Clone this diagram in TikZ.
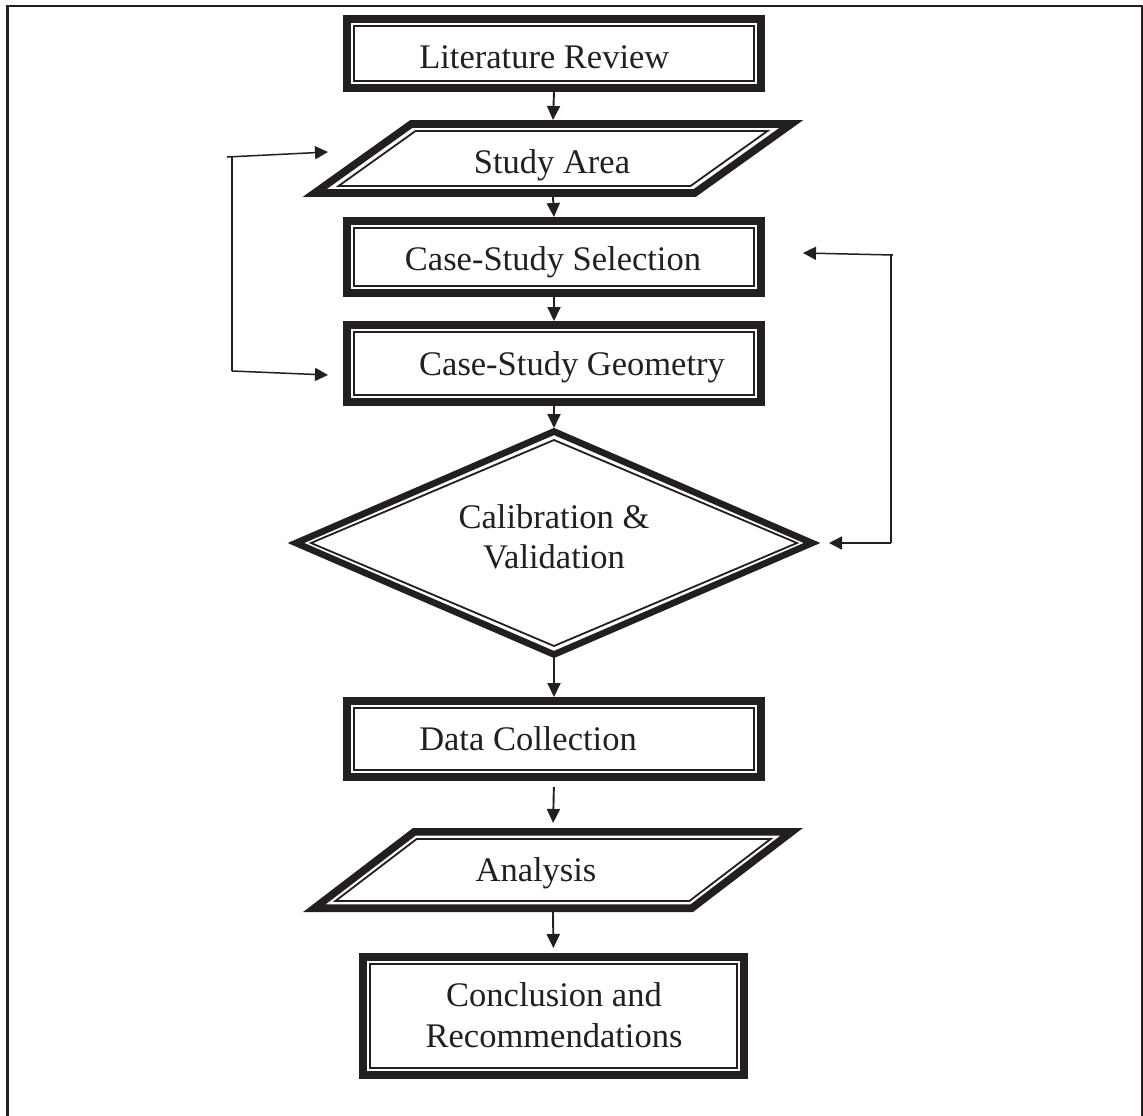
\documentclass[tikz,border=0pt]{standalone}
\usepackage{fontspec}
\setmainfont{Liberation Serif}
\usetikzlibrary{arrows.meta,calc}
\definecolor{ink}{RGB}{35,31,32}
\begin{document}
\begin{tikzpicture}[x=1pt,y=-1pt,
  thickbox/.style={rectangle, draw=ink, line width=7.6pt, inner sep=0pt},
  thinbox/.style={rectangle, draw=ink, line width=1.8pt, inner sep=0pt},
  anchorbox/.style={rectangle, draw=none, inner sep=0pt, outer sep=0pt},
  thickln/.style={draw=ink, line width=7.6pt, line join=miter, miter limit=10},
  thinln/.style={draw=ink, line width=1.8pt, line join=miter, miter limit=10},
  lbl/.style={font=\fontsize{34.5}{40.5}\selectfont, text=ink, inner sep=0pt, anchor=base},
  lbltwo/.style={font=\fontsize{34.5}{40.5}\selectfont, text=ink, inner sep=0pt, align=center},
  arr/.style={draw=ink, line width=1.9pt, -{Triangle[length=14pt,width=13pt]}},
  loopln/.style={draw=ink, line width=1.5pt},
  looparr/.style={loopln, -{Triangle[length=13pt,width=13pt]}}]
\useasboundingbox (0,0) rectangle (1143,1116);
\fill[white] (0,0) rectangle (1143,1116);
% frame
\draw[ink, line width=2.2pt] (7.5,1116) -- (7.5,6) -- (1142,6) -- (1142,1116);

% Literature Review
\node[thickbox, minimum width=414.4pt, minimum height=69.4pt] (lit) at (554,53.5) {};
\node[thinbox, minimum width=400pt, minimum height=55pt] (litIn) at (lit) {};
\node[lbl] (litT) at (544.3,68) {Literature Review};

% Study Area (parallelogram)
\node[anchorbox, minimum width=10pt, minimum height=77pt] (sa) at (553,158.5) {};
\draw[thickln] (411.3,124) -- (791.3,124) -- (694.7,193) -- (314.7,193) -- cycle;
\draw[thinln] (415.5,131) -- (767.5,131) -- (690.5,186) -- (338.5,186) -- cycle;
\node[lbl] (saT) at (552,173.3) {Study Area};

% Case-Study Selection
\node[thickbox, minimum width=414.4pt, minimum height=72.4pt] (csel) at (554,257) {};
\node[thinbox, minimum width=400pt, minimum height=58pt] (cselIn) at (csel) {};
\node[lbl] (cselT) at (553,270) {Case-Study Selection};

% Case-Study Geometry
\node[thickbox, minimum width=414.4pt, minimum height=77.4pt] (cgeo) at (554,363.5) {};
\node[thinbox, minimum width=400pt, minimum height=63pt] (cgeoIn) at (cgeo) {};
\node[lbl] (cgeoT) at (572,375) {Case-Study Geometry};

% Calibration & Validation (diamond)
\node[anchorbox, minimum width=532pt, minimum height=230pt] (cal) at (554,543) {};
\draw[thickln, line width=6.6pt] (554,431.5) -- (812,543) -- (554,654.5) -- (296,543) -- cycle;
\draw[thinln] (554,440) -- (797,543) -- (554,646) -- (311,543) -- cycle;
\node[lbltwo] (calT) at (554,536.7) {Calibration \&\\Validation};

% Data Collection
\node[thickbox, minimum width=414.4pt, minimum height=76.4pt] (data) at (554,739) {};
\node[thinbox, minimum width=400pt, minimum height=62pt] (dataIn) at (data) {};
\node[lbl] (dataT) at (528,750.7) {Data Collection};

% Analysis (parallelogram)
\node[anchorbox, minimum width=10pt, minimum height=84pt] (an) at (553,870) {};
\draw[thickln] (414.3,831.8) -- (791.7,831.8) -- (691.7,908.2) -- (314.3,908.2) -- cycle;
\draw[thinln] (416.6,839) -- (770.6,839) -- (689.4,901) -- (335.4,901) -- cycle;
\node[lbl] (anT) at (536,881.7) {Analysis};

% Conclusion and Recommendations
\node[thickbox, minimum width=381.4pt, minimum height=118.4pt] (concl) at (553.5,1016) {};
\node[thinbox, minimum width=367pt, minimum height=104pt] (conclIn) at (concl) {};
\node[lbltwo] (conclT) at (554,1015.4) {Conclusion and\\Recommendations};

% main flow
\draw[arr] (lit.south) -- (sa.north);
\draw[arr] (sa.south) -- (csel.north);
\draw[arr] (csel.south) -- (cgeo.north);
\draw[arr] (cgeo.south) -- (cal.north);
\draw[arr] (cal.south) -- (data.north);
\draw[arr, shorten <=6pt, shorten >=5pt] (data.south) -- (an.north);
\draw[arr, shorten >=5pt] (an.south) -- (concl.north);

% left loop
\coordinate (lTop) at (227,157);
\coordinate (lBot) at (232,371);
\coordinate (saIn) at (328,152);
\coordinate (geoIn) at (328,375);
\draw[looparr] (lTop) -- (saIn);
\draw[loopln] (232,157) -- (lBot);
\draw[looparr] (lBot) -- (geoIn);

% right loop
\coordinate (rTop) at (893,255);
\coordinate (rBot) at (891,543);
\coordinate (cselArr) at (803,253);
\draw[looparr] (rTop) -- (cselArr);
\draw[loopln] (891,255) -- (rBot);
\draw[looparr, shorten >=9pt] (rBot) -- (cal.east);
\end{tikzpicture}
\end{document}
